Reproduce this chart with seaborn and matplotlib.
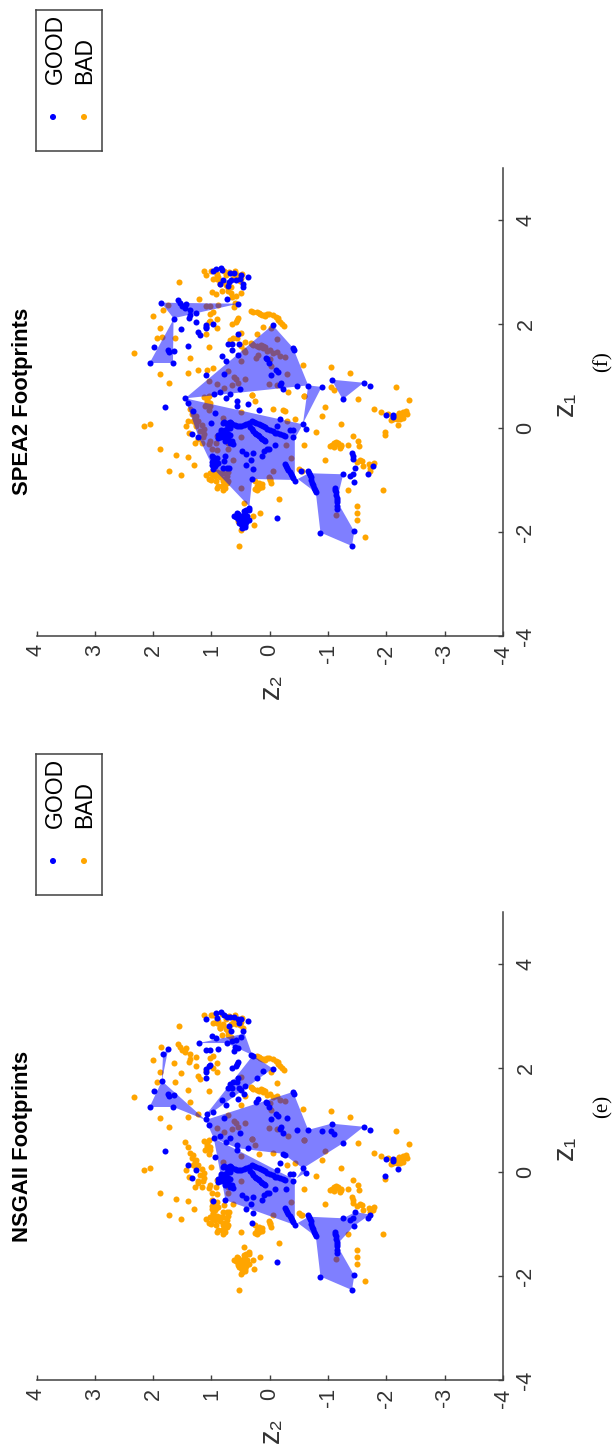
import pandas as pd
import seaborn as sns
import matplotlib.pyplot as plt

# points as (z1, z2)
# instances marked BAD in both panels
both_bad = [(2.81,1.56),(2.16,2.01),(1.93,1.89),(1.74,1.94),(1.74,1.63),(1.56,1.05),(1.45,2.33),(1.34,1.36),
    (1.03,1.88),(0.87,1.73),(1.05,1.40),(1.12,1.23),(1.92,0.91),(2.09,0.91),(2.20,1.02),(2.24,0.98),
    (2.21,0.19),(2.18,0.14),(2.16,0.08),(2.20,0.02),(2.18,-0.06),(2.11,-0.14),(2.04,-0.17),(1.96,-0.25),
    (1.93,-0.03),(1.71,-0.13),(1.64,0.33),(1.60,0.28),(1.56,0.19),(1.60,0.15),(1.56,0.08),(1.50,0.0),
    (1.46,-0.12),(1.29,0.50),(1.46,0.43),(1.21,-0.57),(1.18,-1.05),(1.05,-1.37),(0.78,-2.16),(1.09,0.71),
    (0.99,0.61),(0.94,0.58),(0.86,0.54),(0.95,0.43),(0.85,0.90),(0.77,0.78),(0.83,0.65),(0.84,0.01),
    (0.82,-0.12),(1.39,-0.17),(1.37,-0.26),(1.32,0.0),(1.20,-0.03),(1.82,0.49),(0.70,-0.31),(0.64,0.30),
    (0.62,-0.59),(3.02,1.12),(3.01,1.0),(3.02,0.60),(2.96,0.47),(2.86,0.91),(2.77,0.86),(2.83,0.80),
    (2.64,0.71),(2.64,0.82),(2.86,0.63),(2.83,0.51),(2.86,0.97),
    (2.19,0.17),(2.17,0.10),(2.19,0.04),(2.14,-0.10),(2.07,-0.15),(2.00,-0.21),(2.23,0.22),
    (1.62,0.30),(1.58,0.22),(1.53,0.11),(1.48,0.04),(1.44,-0.05),(1.58,0.12),
    (2.90,0.88),(2.95,0.75),(2.92,0.62),(2.80,0.85),(2.75,0.75),(2.70,0.72),(2.92,0.90),(3.0,0.7),(2.88,0.5),(2.6,0.66)]
both_bad_low = [(0.03,2.16),(0.07,2.05),(-0.41,1.89),(-0.52,1.61),(-0.56,1.40),(-0.72,1.30),(-0.83,1.73),
    (-0.90,1.53),(0.49,1.08),(0.43,1.02),(0.23,1.26),(0.14,1.23),(0.05,1.17),(-0.01,1.12),(-0.12,1.12),
    (-0.25,1.02),(-0.15,0.91),(-0.29,1.29),(0.03,1.43),(-0.09,1.38),(0.59,1.13),(0.62,1.05),(0.35,1.05),
    (-0.28,0.92),(-0.43,0.91),(-0.28,0.71),(-0.61,0.63),(-1.16,0.50),(-1.02,0.25),(-1.15,0.19),(-1.08,0.14),
    (-1.19,0.22),(-0.98,0.0),(-1.05,-0.03),(-1.36,-0.16),(-1.64,0.17),(-1.87,0.27),(-2.27,0.53),(-2.10,-1.63),
    (-1.20,-1.95),(-1.20,-1.34),(-1.50,-1.49),(-1.63,-1.50),(-1.77,-1.49),(-0.79,-0.50),(-0.82,-0.55),
    (-0.62,-0.94),(-0.32,-0.58),(-0.07,-0.79),(0.07,-1.23),(0.24,-0.90),(0.56,-1.51),(0.37,-1.79),(0.31,-1.91),
    (0.54,-2.38),(0.20,-2.29),(0.17,-2.23),(0.27,-2.35),(0.27,-2.03),(0.17,-2.18),(0.23,-2.26),(0.28,-2.32),
    (-0.34,-1.03),(-0.29,-1.11),(-0.28,-1.17),(-0.34,-1.23),(-0.38,-1.20),(-0.33,-1.35),(-0.16,-1.42),
    (-0.25,-1.51),(-0.34,-1.53),(-0.61,-1.55),(-0.73,-1.60),(-0.76,-1.72),(-0.68,-1.79),(-0.13,-1.98),
    (0.36,-0.06),(0.18,-0.44),(0.14,-0.30),(-0.57,-0.37),(-0.82,-0.06),(0.30,0.50),(0.52,0.25),(0.63,0.30),
    (0.62,-0.59),(0.41,-0.95),(0.20,0.81),(-0.18,0.49),(-0.41,0.71),(-1.45,0.45),(-1.69,0.28),(-1.91,0.46),
    (-1.97,0.50),(-1.79,0.54),(-0.87,1.02),(-0.91,1.10),(-0.98,1.05),(-0.90,0.97),(-0.87,0.86),(-0.87,0.80),
    (-0.84,0.72),(-1.02,0.80),(-1.02,0.71),(-1.08,0.77),(-1.15,0.90),(-1.19,0.80),(-1.11,0.82),(-1.02,0.92),
    (-0.89,0.99),(-0.93,0.94),(-1.68,-1.14)]
# dense orange patches
bad_patches = [(0.36,1.37),(0.27,1.34),(0.20,1.28),(0.14,1.31),(0.07,1.26),(-0.06,1.20),(-0.18,1.14),(-0.22,1.23),
    (-0.28,1.17),(-0.31,1.05),(-0.41,0.99),(0.55,1.07),(0.49,1.02),(0.43,1.11),(0.52,1.08),
    (-0.80,0.97),(-0.84,0.91),(-0.95,0.85),(-0.98,0.78),(-0.93,0.74),(-1.06,0.74),(-1.12,0.88),(-1.15,0.76),
    (-1.00,1.00),(-0.90,0.90),(-1.10,0.17),(-1.12,0.22),(-1.18,0.25),(-1.05,0.18),(-1.13,0.13),(-1.00,-0.01),
    (-0.95,0.02),(0.22,-2.12),(0.25,-2.20),(0.30,-2.28),(0.18,-2.12),(0.33,-2.34),(0.15,-2.08),(0.29,-2.22),
    (0.20,-2.17),(-0.32,-1.06),(-0.27,-1.14),(-0.30,-1.14),(-0.36,-1.20),(-0.33,-1.22),(-0.36,-1.10),
    (-0.65,-1.50),(-0.63,-1.58),(-0.70,-1.70),(-0.72,-1.75)]

# instances marked GOOD in both panels
both_good = [(3.06,0.93),(3.07,0.84),(2.99,0.68),(2.98,0.62),(2.94,0.49),(2.90,0.37),(2.81,0.70),(2.71,0.46),
    (2.48,0.74),(2.39,0.54),(1.93,1.10),(1.98,1.09),(1.98,-0.05),(1.80,0.55),(1.61,0.71),(1.61,0.65),
    (1.61,0.53),(1.50,0.65),(1.41,0.54),(1.55,1.98),(1.50,1.74),(1.47,1.72),(1.49,1.64),(1.25,2.06),
    (1.25,1.66),(1.39,0.82),(1.29,0.75),(1.01,1.10),(1.04,0.78),(1.54,-0.40),(1.50,-0.42),(1.34,0.07),
    (1.32,0.04),(1.25,0.01),(1.12,-0.11),(1.08,-0.14),(1.02,-0.03),(0.87,-0.20),(0.83,-0.18),(0.75,-0.22),
    (0.80,-0.46),(0.81,-0.66),(0.79,-0.89),(0.93,-1.06),(0.87,-1.61),(0.80,-1.72),(0.75,0.51),(0.65,0.96),
    (0.70,0.86),(0.65,0.69),(0.40,1.79),(0.28,0.94),(-0.12,1.33),(0.51,0.56),(0.43,0.57),(0.46,0.37),
    (0.57,0.75),(0.18,-0.17),(0.03,-0.12),(0.07,-0.57),(-0.02,-0.62),(0.55,-1.25),(0.25,-1.99),(0.25,-2.12),
    (0.21,-2.12),(-0.55,0.98)]
chain_good = [(0.10,0.81),(0.07,0.74),(0.12,0.68),(0.07,0.64),(0.04,0.56),(0.03,0.49),(0.07,0.40),(0.14,0.31),
    (0.09,0.23),(0.05,0.15),(0.01,0.08),(-0.04,0.0),(-0.09,-0.09),(-0.12,-0.17),(-0.15,-0.26),(-0.04,-0.35),
    (-0.04,-0.40),(-0.18,-0.40),(0.01,0.34),(-0.06,0.28),(-0.12,0.23),(-0.16,0.18),(-0.22,0.13),(-0.25,0.08),
    (-0.14,0.88),(-0.20,0.88),(-0.06,0.80),(-0.02,0.74),(0.0,0.69),(-0.12,0.80),(-0.15,0.74),(-0.14,0.68),
    (-0.25,0.77),(-0.18,0.71),(-0.25,0.65),(-0.31,0.63),(-0.32,-0.09),(-0.44,0.47),(-0.50,0.40),(-0.48,0.28),
    (-0.54,0.14),(-0.44,0.10),(-0.40,0.05),(-0.41,0.01),(-0.61,0.33),(-0.72,0.40),(-0.79,0.29),(-0.99,0.30),
    (-0.54,0.76),(-0.70,-0.27),(-0.76,-0.30),(-0.84,-0.34),(-0.92,-0.38),(-1.02,-0.43),(-0.86,-0.67),(-0.95,-0.70),
    (-1.05,-0.73),(-1.15,-0.76),(-1.24,-0.79),(-1.15,-1.12),(-1.24,-1.13),(-1.34,-1.15),(-1.43,-1.15),(-1.56,-1.16),
    (-2.01,-0.87),(-1.99,-1.45),(-2.27,-1.41),(-1.73,-0.12),(-0.89,-1.26),(-0.77,-1.47),(-1.04,-1.44),(-0.93,-1.38),
    (-0.89,-1.42),(-0.89,-1.68),
    (0.11,0.78),(0.09,0.71),(0.095,0.66),(0.055,0.60),(0.035,0.52),(0.05,0.44),(0.10,0.35),(0.115,0.27),
    (0.07,0.19),(0.03,0.11),(-0.015,0.04),(-0.065,-0.05),(-0.105,-0.13),(-0.135,-0.22),(-0.025,0.31),(-0.09,0.25),
    (-0.14,0.20),(-0.19,0.15),(-0.235,0.10),(-0.73,-0.285),(-0.80,-0.32),(-0.88,-0.36),(-0.97,-0.40),(-0.90,-0.685),
    (-1.00,-0.715),(-1.10,-0.745),(-1.20,-0.775),(-0.82,-0.65),(-1.19,-1.125),(-1.29,-1.14),(-1.38,-1.15),(-1.50,-1.155),
    (-0.03,0.83),(-0.09,0.78),(-0.11,0.71),(-0.08,0.84),(-0.17,0.84),(-0.03,0.76),(0.03,0.72),(-0.18,0.79),
    (-0.22,0.72),(-0.28,0.68)]

# GOOD in panel (e), BAD in panel (f)
only_e = [(2.95,1.10),(2.96,0.90),(3.02,0.78),(2.98,0.74),(2.94,0.54),(2.87,0.53),(2.71,0.67),(2.60,0.49),
    (2.54,0.58),(2.52,0.64),(2.48,1.22),(2.62,0.99),(2.58,0.92),(2.33,0.62),(2.41,0.60),(2.37,0.89),
    (2.34,1.02),(2.34,1.10),(2.37,1.74),(2.27,1.83),(1.75,1.85),(1.81,1.10),(2.03,1.04),(2.05,1.03),
    (1.12,1.08),(1.16,0.97),(2.00,0.65),(2.03,0.58),(2.12,0.54),(2.07,0.56),(2.24,0.29),(2.25,0.32),
    (1.95,0.11),(1.80,0.22),(1.70,0.68),(1.73,0.63),(1.73,0.56),(1.66,0.42),(1.57,0.50),(1.50,0.45),
    (1.34,0.23),(1.41,0.21),(0.79,-1.05),(0.73,-1.11),(0.91,1.05),(1.03,-0.30),(0.35,-0.23),(0.32,-0.26),
    (0.06,-2.20),(-0.07,-1.98),(0.03,1.27),(0.14,1.40),(-0.32,-0.28),(-0.82,-1.72)]

# GOOD in panel (f), BAD in panel (e)
only_f = [(3.01,0.98),(2.77,0.86),(2.84,0.80),(2.73,0.72),(2.85,0.66),(2.85,0.58),(2.86,0.51),(2.77,0.46),
    (3.04,0.82),(2.41,1.86),(2.46,1.57),(2.40,1.54),(2.35,1.51),(2.30,1.45),(2.39,1.43),(2.27,1.36),
    (2.18,1.37),(2.11,1.38),(2.22,1.26),(2.03,1.27),(1.95,1.10),(1.84,1.23),(1.79,1.19),(2.00,0.98),
    (2.09,1.64),(1.58,1.41),(1.91,1.53),(0.57,1.45),(0.48,1.40),(0.32,1.32),(0.09,1.00),(-0.17,1.23),
    (0.35,0.18),(-0.82,-0.53),(-0.74,-1.77),(-0.49,-1.41),(-0.54,-1.42),(-0.60,-1.43),(-0.54,0.99),(-0.59,0.97),
    (-0.57,0.90),(-0.65,0.99),(-0.63,0.94),(-0.68,0.88),(-0.72,0.99),(-0.73,0.94),(-0.78,0.98),(-0.70,0.92),
    (-0.63,0.78),(-0.77,0.81),(-0.77,0.74),(-0.77,0.70),(-1.69,0.62),(-1.66,0.54),(-1.70,0.49),(-1.69,0.39),
    (-1.77,0.51),(-1.80,0.46),(-1.86,0.43),(-1.77,0.36),(-1.90,0.43),(-1.57,0.35),(-1.53,0.35),(-1.63,0.57),
    (-1.60,0.45),(-1.65,0.42),(-1.72,0.42),(-1.75,0.55),(-1.82,0.52),(-1.85,0.50),(-1.58,0.40),(-1.72,0.58),
    (-1.80,0.40),(-1.68,0.45),(-1.74,0.47),(-1.83,0.45),(-1.92,0.47)]

# footprint polygons, (z1, z2)
footprints_e = [
    [(1.75,1.85),(1.25,2.06),(1.25,1.65),(1.00,1.10)],
    [(2.37,1.74),(2.27,1.83),(1.75,1.85)],
    [(2.48,1.22),(2.66,0.43),(2.25,0.30),(2.48,0.74)],
    [(2.24,0.29),(1.99,-0.05),(1.16,0.97),(1.12,1.08)],
    [(1.00,1.10),(1.54,-0.40),(0.81,-0.66),(0.93,-1.06),(0.87,-1.61),(0.55,-1.25),(0.07,-0.57),(0.35,-0.23),(0.46,0.56),(0.65,0.96)],
    [(0.65,0.96),(0.43,0.57),(-0.15,-0.43),(-1.02,-0.43),(-0.54,0.76)],
    [(-0.98,-0.48),(-0.86,-0.67),(-0.89,-1.26),(-0.77,-1.47),(-0.82,-1.72),(-1.04,-1.44),(-1.40,-1.15),(-1.99,-1.45),(-2.27,-1.41),(-2.01,-0.87),(-1.24,-0.79)],
    [(-0.12,-0.46),(-0.01,-0.62),(0.07,-0.57)],
]
footprints_f = [
    [(2.41,1.86),(2.39,0.54),(2.11,1.65)],
    [(2.09,1.65),(1.25,2.06),(1.25,1.66)],
    [(0.57,1.45),(1.98,-0.05),(1.54,-0.40),(0.82,-0.66)],
    [(0.82,-0.66),(0.79,-0.89),(0.09,-0.57)],
    [(0.93,-1.06),(0.87,-1.61),(0.55,-1.25)],
    [(0.57,1.45),(0.07,-0.57),(-0.20,-0.43),(-1.00,-0.43),(-0.98,0.30),(-1.51,0.35),(-0.79,0.96),(-0.15,1.23)],
    [(-0.98,-0.48),(-0.87,-0.67),(-0.89,-1.26),(-1.40,-1.15),(-1.99,-1.45),(-2.27,-1.41),(-2.01,-0.87),(-1.24,-0.79)],
]

panel_titles = ['NSGAII Footprints', 'SPEA2 Footprints']
tick_z1 = [-4, -2, 0, 2, 4]
tick_z2 = [-4, -3, -2, -1, 0, 1, 2, 3, 4]

sns.set_theme(style='ticks')
plt.rcParams['font.family'] = ['Liberation Sans', 'DejaVu Sans']
plt.rcParams['axes.unicode_minus'] = False

W, H = 613, 1448
AX_GREY = '#404040'
BLUE = '#0000ff'
ORANGE = '#ffa500'
DOT = 19
fig = plt.figure(figsize=(W / 100, H / 100), dpi=100)


def make_df(rows):
    return pd.DataFrame(rows, columns=['z1', 'z2'])


def draw_panel(top, good, bad, polys, title, tag, title_bottom, tag_y, legend_top):
    ax = fig.add_axes([36.5 / W, 1 - (top + 468) / H, 466.5 / W, 468 / H])
    sns.scatterplot(data=make_df(bad), x='z2', y='z1', color=ORANGE, s=DOT, linewidth=0, zorder=1, ax=ax)
    for poly in polys:
        p = make_df(poly)
        ax.fill(p['z2'], p['z1'], color=BLUE, alpha=0.5, linewidth=0, zorder=2)
    sns.scatterplot(data=make_df(good), x='z2', y='z1', color=BLUE, s=DOT, linewidth=0, zorder=3, ax=ax)

    ax.set_xlim(4, -4)
    ax.set_ylim(-4, 5)
    ax.set_xticks(tick_z2)
    ax.set_yticks(tick_z1)
    ax.yaxis.tick_right()
    ax.tick_params(axis='x', direction='in', length=3.4, width=1.0, color=AX_GREY, labelcolor='#333333',
                   labelsize=15.5, labelrotation=90, pad=6)
    ax.tick_params(axis='y', direction='in', length=3.4, width=1.0, color=AX_GREY, labelcolor='#333333',
                   labelsize=15.5, labelrotation=90, pad=9)
    for lab in ax.get_yticklabels():
        lab.set_va('center')
    for side in ['left', 'top']:
        ax.spines[side].set_visible(False)
    for side in ['right', 'bottom']:
        ax.spines[side].set_color(AX_GREY)
        ax.spines[side].set_linewidth(1.1)
    ax.set_xlabel('')
    ax.set_ylabel('')
    ax.patch.set_alpha(0)

    # axis names sit on the page by hand, the whole page is turned
    fig.text(271 / W, 1 - (top + 518) / H, 'z\u2082', rotation=90, fontsize=21, color='#333333',
             ha='center', va='center')
    fig.text(565 / W, 1 - (top + 236) / H, 'z\u2081', rotation=90, fontsize=21, color='#333333',
             ha='center', va='center')
    fig.text(12 / W, 1 - title_bottom / H, title, rotation=90, fontsize=15.8, fontweight='bold',
             color='black', ha='left', va='bottom')
    fig.text(603 / W, 1 - tag_y / H, tag, rotation=90, fontsize=15, family='Liberation Serif',
             color='black', ha='center', va='center')

    # legend box, rotated with the rest of the page
    lax = fig.add_axes([36 / W, 1 - (legend_top + 141) / H, 66 / W, 141 / H])
    lax.set_xlim(0, 66)
    lax.set_ylim(141, 0)
    sns.scatterplot(x=[17, 48], y=[107, 107], hue=['GOOD', 'BAD'], palette=[BLUE, ORANGE], s=DOT,
                    linewidth=0, legend=False, ax=lax)
    lax.text(19, 74, 'GOOD', rotation=90, fontsize=16.5, color='black', ha='center', va='bottom')
    lax.text(49, 74, 'BAD', rotation=90, fontsize=16.5, color='black', ha='center', va='bottom')
    lax.set_xticks([])
    lax.set_yticks([])
    lax.set_xlabel('')
    lax.set_ylabel('')
    for s in lax.spines.values():
        s.set_color(AX_GREY)
        s.set_linewidth(1.1)


shared_good = both_good + chain_good
shared_bad = both_bad + both_bad_low + bad_patches
draw_panel(912, shared_good + only_e, shared_bad + only_f, footprints_e, panel_titles[0], '(e)', 1242, 1106, 754)
draw_panel(168, shared_good + only_f, shared_bad + only_e, footprints_f, panel_titles[1], '(f)', 495, 362, 10)

fig.savefig('out.png', dpi=100)
